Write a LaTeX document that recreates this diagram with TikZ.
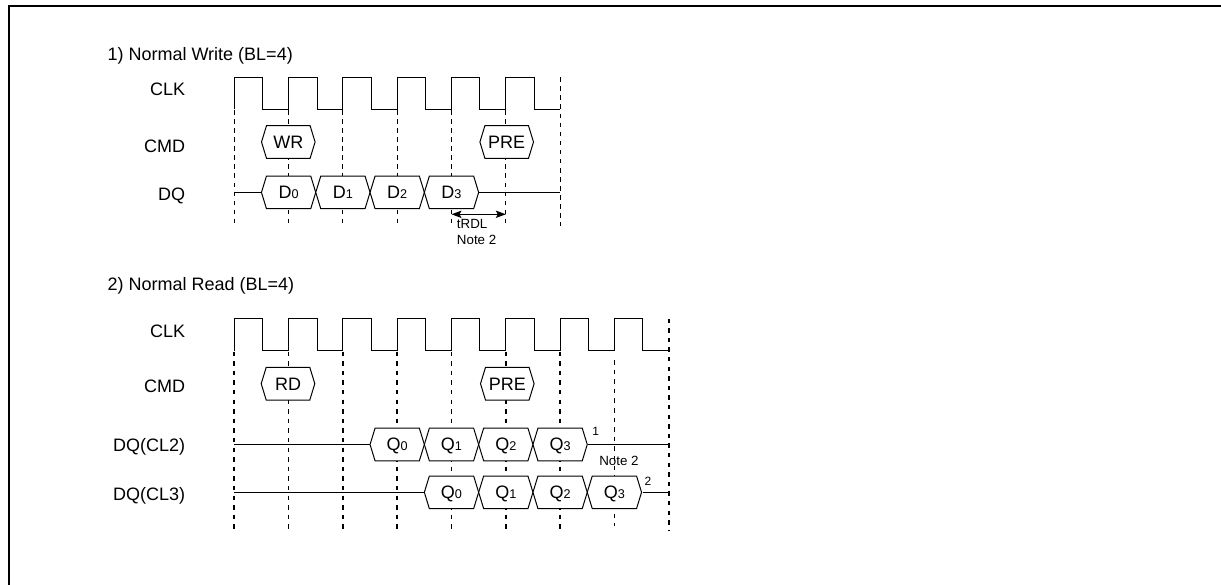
\documentclass[tikz,border=0pt]{standalone}
\usepackage{fontspec}
\setmainfont{Liberation Sans}
\usetikzlibrary{arrows.meta}

\newcommand\sub[1]{{\fontsize{9.5pt}{10pt}\selectfont #1}}
% hex cell: centre x, centre y, half width, name, text
\newcommand\hexcell[5]{%
  \draw[wave,fill=white] (#1-#3,#2) -- (#1-#3+5,#2-16.3) -- (#1+#3-5,#2-16.3)
    -- (#1+#3,#2) -- (#1+#3-5,#2+16.3) -- (#1-#3+5,#2+16.3) -- cycle;
  \node[cell text] (#4) at (#1,#2+6.3) {#5};}

\begin{document}
\begin{tikzpicture}[x=0.75pt,y=-0.75pt,
                    wave/.style={line width=0.75pt},
                    grid w/.style={line width=0.8pt,dash pattern=on 3.4pt off 3.4pt},
                    grid r/.style={line width=1.3pt,dash pattern=on 3.4pt off 3.8pt},
                    sig label/.style={anchor=base east,inner sep=0pt,font=\fontsize{13.5pt}{15pt}\selectfont},
                    title/.style={anchor=base west,inner sep=0pt,font=\fontsize{13.5pt}{15pt}\selectfont},
                    cell text/.style={anchor=base,inner sep=0pt,font=\fontsize{13.5pt}{15pt}\selectfont},
                    note/.style={anchor=base west,inner sep=0pt,font=\fontsize{10pt}{12pt}\selectfont}]

  \useasboundingbox (0,0) rectangle (1221,585);
  \draw[line width=1.1pt] (9,585) -- (9,6) -- (1221,6);

  % 1) write
  \node[title] (title w) at (107.3,60.5) {1) Normal Write (BL=4)};
  \node[sig label] (clk w) at (185.5,95) {CLK};
  \node[sig label] (cmd w) at (185.5,152.3) {CMD};
  \node[sig label] (dq w) at (185.5,200) {DQ};

  \foreach \k in {0,...,5}
    \draw[grid w] ({234.3+54.3*\k},110) -- ({234.3+54.3*\k},226);
  \draw[grid w] (560.1,77.3) -- (560.1,226);

  \draw[wave] (234.3,109.3) \foreach \k in {1,...,6}{ -- ++(0,-32) -- ++(28.4,0) -- ++(0,32) -- ++(25.9,0)};

  \hexcell{288.3}{142}{26.8}{wr}{WR}
  \hexcell{506.7}{142}{26.8}{pre w}{PRE}

  \draw[wave] (234.3,192.4) -- (261.45,192.4);
  \draw[wave] (478.65,192.4) -- (560.1,192.4);
  \foreach \k/\t in {1/0,2/1,3/2,4/3}
    {\hexcell{234.3+54.3*\k}{192.4}{27.15}{d\t}{D\sub{\t}}}

  \coordinate (trdl a) at (451.5,214.3);
  \coordinate (trdl b) at (505.8,214.3);
  \draw[wave,{Stealth[length=7.5pt,width=5.5pt,inset=1.5pt]}-{Stealth[length=7.5pt,width=5.5pt,inset=1.5pt]}] (trdl a) -- (trdl b);
  \node[note] (trdl) at (456.7,228.3) {tRDL};
  \node[note] (note w) at (456.7,244) {Note 2};

  % 2) read
  \node[title] (title r) at (107.3,290.7) {2) Normal Read (BL=4)};
  \node[sig label] (clk r) at (185.5,337.3) {CLK};
  \node[sig label] (cmd r) at (185.5,392) {CMD};
  \node[sig label] (dq cl2) at (185.5,451.7) {DQ(CL2)};
  \node[sig label] (dq cl3) at (185.5,500) {DQ(CL3)};

  \foreach \k in {0,...,6}
    \draw[grid r] ({234.3+54.3*\k},351.5) -- ({234.3+54.3*\k},530);
  \draw[grid r] (614.4,360) -- (614.4,526);
  \draw[grid r] (668.7,318.5) -- (668.7,530);

  \draw[wave] (234.3,350.5) \foreach \k in {1,...,8}{ -- ++(0,-32) -- ++(28.4,0) -- ++(0,32) -- ++(25.9,0)};

  \hexcell{288}{383.7}{26.8}{rd}{RD}
  \hexcell{507.3}{383.7}{26.8}{pre r}{PRE}

  \draw[wave] (234.3,444.5) -- (370.05,444.5);
  \draw[wave] (588.45,444.5) -- (668.7,444.5);
  \foreach \k/\t in {3/0,4/1,5/2,6/3}
    {\hexcell{234.3+54.3*\k}{444.5}{27.15}{qa\t}{Q\sub{\t}}}

  \draw[wave] (234.3,492.3) -- (424.35,492.3);
  \draw[wave] (642.75,492.3) -- (668.7,492.3);
  \foreach \k/\t in {4/0,5/1,6/2,7/3}
    {\hexcell{234.3+54.3*\k}{492.3}{27.15}{qb\t}{Q\sub{\t}}}

  \node[note,font=\fontsize{9pt}{11pt}\selectfont] (fn1) at (592,435) {1};
  \node[note,font=\fontsize{9pt}{11pt}\selectfont] (fn2) at (644.3,485) {2};
  \node[note] (note r) at (599,465.7) {Note 2};
\end{tikzpicture}
\end{document}
